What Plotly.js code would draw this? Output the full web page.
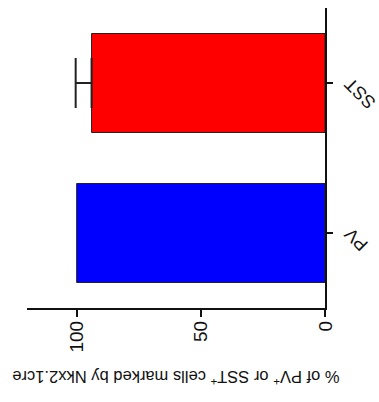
<!DOCTYPE html>
<html>
<head>
<meta charset="utf-8">
<script src="https://cdn.plot.ly/plotly-3.0.1.min.js"></script>
<style>
  html, body { margin: 0; padding: 0; width: 379px; height: 402px; overflow: hidden; background: #fff; }
  #wrap { position: absolute; left: 0; top: 0; width: 402px; height: 379px;
          transform-origin: 0 0; transform: translateY(402px) rotate(-90deg); }
  #chart { width: 402px; height: 379px; }
</style>
</head>
<body>
<div id="wrap"><div id="chart"></div></div>
<script>
// Data read from the (rotated) reference picture
const categories = ['PV', 'SST'];
const values = [100, 94];
const errorsPlus = [0, 6.4];
const barColors = ['#0000ff', '#ff0000'];
const valueTicks = [0, 50, 100];
const yTitle = '% of PV<sup>+</sup> or SST<sup>+</sup> cells marked by Nkx2.1cre';

const traces = categories.map((c, i) => {
  const t = {
    type: 'bar',
    x: [c],
    y: [values[i]],
    width: 0.66,
    marker: { color: barColors[i], line: { color: '#222', width: 1 } },
    showlegend: false,
    hoverinfo: 'none'
  };
  if (errorsPlus[i] > 0) {
    t.error_y = { type: 'data', array: [errorsPlus[i]], arrayminus: [0], symmetric: false,
                  color: '#222', thickness: 2, width: 25 };
  }
  return t;
});

const layout = {
  width: 402, height: 379,
  margin: { l: 94, r: 8, t: 27, b: 54 },
  paper_bgcolor: '#fff', plot_bgcolor: '#fff',
  barmode: 'overlay',
  font: { family: 'Liberation Sans, Arial, sans-serif', color: '#111' },
  xaxis: {
    type: 'category',
    categoryarray: categories,
    range: [-0.5, 1.5],
    showline: true, linecolor: '#111', linewidth: 2,
    ticks: 'outside', ticklen: 6, tickwidth: 2, tickcolor: '#111',
    tickangle: -45,
    tickfont: { size: 18, family: 'Liberation Sans, Arial, sans-serif', color: '#111' },
    showgrid: false, zeroline: false, fixedrange: true
  },
  yaxis: {
    range: [0, 120],
    tickvals: valueTicks,
    ticktext: valueTicks.map(String),
    showline: true, linecolor: '#111', linewidth: 2,
    ticks: 'outside', ticklen: 7, tickwidth: 2, tickcolor: '#111',
    tickfont: { size: 19, family: 'Liberation Sans, Arial, sans-serif', color: '#111' },
    showgrid: false, zeroline: false, fixedrange: true,
    title: { text: yTitle, font: { size: 16.5, family: 'Liberation Sans, Arial, sans-serif', color: '#111' }, standoff: 14 }
  }
};

Plotly.newPlot('chart', traces, layout, { displayModeBar: false, staticPlot: true });
</script>
</body>
</html>
